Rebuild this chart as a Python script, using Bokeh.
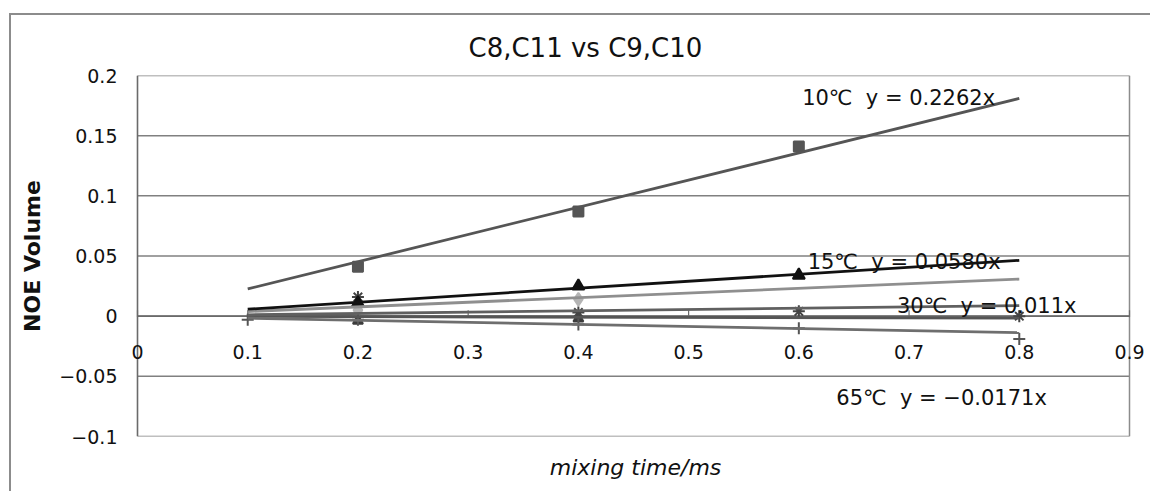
from bokeh.plotting import figure
from bokeh.models import Label, FixedTicker
from bokeh.embed import file_html
from bokeh.resources import INLINE

# ---- data ----
title_text = "C8,C11 vs C9,C10"
x_label = "mixing time/ms"
y_label = "NOE Volume"

x_ticks = [0.0, 0.1, 0.2, 0.3, 0.4, 0.5, 0.6, 0.7, 0.8, 0.9]
x_tick_labels = ["0", "0.1", "0.2", "0.3", "0.4", "0.5", "0.6", "0.7", "0.8", "0.9"]
y_ticks = [-0.1, -0.05, 0.0, 0.05, 0.1, 0.15, 0.2]
y_tick_labels = ["\u22120.1", "\u22120.05", "0", "0.05", "0.1", "0.15", "0.2"]

trend_x = [0.1, 0.8]

s10_x = [0.2, 0.4, 0.6]
s10_y = [0.041, 0.087, 0.141]
s10_slope = 0.2262

s15_x = [0.2, 0.4, 0.6]
s15_y = [0.011, 0.025, 0.034]
s15_slope = 0.0580

s20_x = [0.2, 0.4]
s20_y = [0.005, 0.014]
s20_slope = 0.0385

s30_x = [0.2, 0.4, 0.6, 0.8]
s30_y = [0.016, 0.003, 0.004, 0.0]
s30_slope = 0.011

s40_x = [0.2, 0.4]
s40_y = [-0.004, -0.002]
s40_slope = -0.002

s65_x = [0.1, 0.2, 0.4, 0.6, 0.8]
s65_y = [-0.003, -0.003, -0.007, -0.010, -0.019]
s65_slope = -0.0171

eq_labels = ["10\u2103 \u00a0y = 0.2262x", "15\u2103 \u00a0y = 0.0580x",
             "30\u2103 \u00a0y = 0.011x", "65\u2103 \u00a0y = \u22120.0171x"]
eq_x = [0.603, 0.608, 0.689, 0.634]
eq_y = [0.181, 0.045, 0.0083, -0.068]

FONT = "DejaVu Sans"
TXT = "#111111"
BORDER = "#8c8c8c"

# ---- layout (page pixels) ----
PAGE_W, PAGE_H = 1150, 491
BOX_L, BOX_T, BW = 9, 13, 2                 # outer chart border
OX, OY = BOX_L + BW, BOX_T + BW             # canvas origin on the page
W, H = PAGE_W - OX, PAGE_H - OY
FRAME_L, FRAME_R, FRAME_T, FRAME_B = 120, 1150, 75, 436
AREA_L, AREA_R = 137, 1129                  # plot-area edges (x = 0 and x = 0.9)
XMIN, XMAX, YMIN, YMAX = 0.0, 0.9, -0.1, 0.2
ppu = (AREA_R - AREA_L) / (XMAX - XMIN)
x_start = XMIN - (AREA_L - FRAME_L) / ppu
x_end = XMAX + (FRAME_R - AREA_R) / ppu

p = figure(width=W, height=H, output_backend="svg", toolbar_location=None,
           x_range=(x_start, x_end), y_range=(YMIN, YMAX),
           frame_width=FRAME_R - FRAME_L, frame_height=FRAME_B - FRAME_T,
           min_border_left=FRAME_L - OX, min_border_right=PAGE_W - FRAME_R,
           min_border_top=FRAME_T - OY, min_border_bottom=PAGE_H - FRAME_B,
           title=title_text)
p.margin = (BOX_T, 0, 0, BOX_L)
p.styles = {"border-left": f"{BW}px solid {BORDER}", "border-top": f"{BW}px solid {BORDER}"}
p.background_fill_color = "white"
p.border_fill_color = "white"
p.outline_line_color = None

p.title.text_font = FONT
p.title.text_font_size = "26px"
p.title.text_font_style = "normal"
p.title.text_color = TXT
p.title.align = "left"
p.title.offset = 468 - FRAME_L
p.title.standoff = 26

p.xgrid.visible = False
p.ygrid.visible = False

# bottom axis only carries the axis title
xax = p.xaxis[0]
xax.ticker = FixedTicker(ticks=[])
xax.axis_line_color = None
xax.major_tick_line_color = None
xax.minor_tick_line_color = None
xax.major_label_text_font_size = "0px"
xax.axis_label = x_label
xax.axis_label_text_font = FONT
xax.axis_label_text_font_size = "22px"
xax.axis_label_text_font_style = "italic"
xax.axis_label_text_color = TXT
xax.axis_label_standoff = 18

yax = p.yaxis[0]
yax.ticker = FixedTicker(ticks=y_ticks)
yax.major_label_overrides = {t: l for t, l in zip(y_ticks, y_tick_labels)}
yax.major_label_text_font = FONT
yax.major_label_text_font_size = "19px"
yax.major_label_text_color = TXT
yax.major_label_standoff = 3
yax.major_tick_in = 0
yax.major_tick_out = 0
yax.minor_tick_in = 0
yax.minor_tick_out = 0
yax.axis_line_color = None
yax.axis_label = y_label
yax.axis_label_text_font = FONT
yax.axis_label_text_font_size = "22px"
yax.axis_label_text_font_style = "bold"
yax.axis_label_text_color = TXT
yax.axis_label_standoff = 11

# plot-area gridlines, frame and axes
p.segment(x0=[XMIN] * len(y_ticks), y0=y_ticks, x1=[XMAX] * len(y_ticks), y1=y_ticks,
          line_color="#808080", line_width=1.5)
p.line(x=[XMAX, XMAX], y=[YMIN, YMAX], line_color=BORDER, line_width=1.5)
p.line(x=[XMIN, XMIN], y=[YMIN, YMAX], line_color="#6a6a6a", line_width=1.6)
p.line(x=[XMIN, XMAX], y=[0, 0], line_color="#6a6a6a", line_width=1.6)
p.segment(x0=x_ticks, y0=[-0.001] * len(x_ticks), x1=x_ticks, y1=[0.005] * len(x_ticks),
          line_color="#6a6a6a", line_width=1.2)
for t, l in zip(x_ticks, x_tick_labels):
    p.add_layout(Label(x=t, y=0, text=l, y_offset=-36, text_align="center", text_baseline="middle",
                       text_font=FONT, text_font_size="19px", text_color=TXT))

series = [
    (s20_x, s20_y, s20_slope, "diamond", "#b4b4b4", "#8f8f8f", 13),
    (s40_x, s40_y, s40_slope, "triangle", "#3c3c3c", "#555555", 10),
    (s65_x, s65_y, s65_slope, "cross", "#555555", "#6e6e6e", 12),
    (s30_x, s30_y, s30_slope, "asterisk", "#444444", "#606060", 12),
    (s15_x, s15_y, s15_slope, "triangle", "#111111", "#111111", 12),
    (s10_x, s10_y, s10_slope, "square", "#555555", "#555555", 10),
]
for xs, ys, slope, marker, mcol, lcol, size in series:
    p.scatter(x=xs, y=ys, marker=marker, size=size, fill_color=mcol, line_color=mcol, line_width=2)
for xs, ys, slope, marker, mcol, lcol, size in series:
    p.line(x=trend_x, y=[slope * t for t in trend_x], line_color=lcol, line_width=2.8)

for t, x, y in zip(eq_labels, eq_x, eq_y):
    p.add_layout(Label(x=x, y=y, text=t, text_align="left", text_baseline="middle",
                       text_font=FONT, text_font_size="21px", text_color=TXT))

open("out.html", "w").write(file_html(p, INLINE))
